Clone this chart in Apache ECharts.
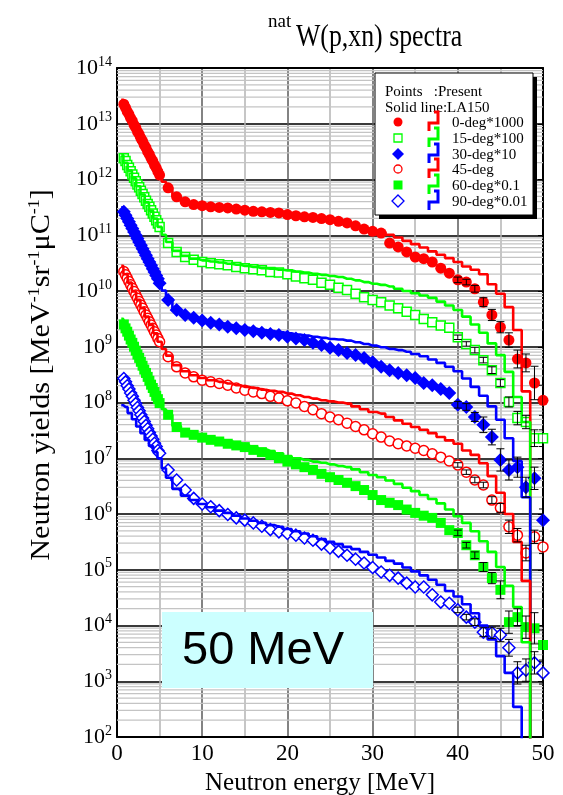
<!DOCTYPE html>
<html><head><meta charset="utf-8">
<script src="https://cdn.jsdelivr.net/npm/echarts@6/dist/echarts.min.js"></script>
<style>html,body{margin:0;padding:0;background:#fff;}#c{width:563px;height:795px;}</style>
</head><body><div id="c"></div>
<script>
// Energies of measured points (MeV)
const E_pts = [0.8,1.0,1.2,1.4,1.6,1.8,2.0,2.2,2.4,2.6,2.8,3.0,3.2,3.4,3.6,3.8,4.0,4.2,4.4,4.6,4.8,
  5,6,7,8,9,10,11,12,13,14,15,16,17,18,19,20,21,22,23,24,25,26,27,28,29,30,
  31,32,33,34,35,36,37,38,39,40,41,42,43,44,45,46,47,48,49,50];
// Measured yields, stored as log10 of the plotted value (already scaled per legend)
const y0deg = [13.35,13.29,13.22,13.17,13.10,13.05,12.98,12.93,12.86,12.81,12.74,12.69,12.62,12.57,12.50,12.45,12.38,12.33,12.26,12.21,12.14,
  12.08,11.85,11.69,11.60,11.55,11.53,11.51,11.50,11.49,11.47,
  11.45,11.43,11.42,11.41,11.40,11.37,11.35,11.33,11.32,11.30,
  11.28,11.25,11.22,11.17,11.11,11.07,11.04,10.86,10.79,10.70,
  10.61,10.58,10.52,10.41,10.32,10.20,10.16,10.04,9.80,9.57,
  9.35,9.12,8.78,8.71,8.35,8.04];
const y15deg = [12.38,12.33,12.26,12.21,12.15,12.09,12.03,11.97,11.91,11.86,11.80,11.74,11.68,11.62,11.56,11.51,11.45,11.39,11.33,11.27,11.21,
  11.15,10.86,10.70,10.61,10.56,10.52,10.50,10.48,10.46,10.43,
  10.41,10.39,10.37,10.34,10.33,10.30,10.26,10.23,10.20,10.15,
  10.11,10.06,10.02,9.95,9.89,9.84,9.80,9.74,9.69,9.63,
  9.57,9.50,9.44,9.38,9.34,9.17,9.05,8.94,8.76,8.58,
  8.35,8.01,7.72,7.65,7.36,7.36];
const y30deg = [11.42,11.36,11.30,11.24,11.18,11.12,11.06,11.00,10.94,10.88,10.82,10.76,10.70,10.64,10.58,10.52,10.46,10.40,10.34,10.28,10.22,
  10.14,9.84,9.66,9.57,9.52,9.47,9.43,9.40,9.36,9.33,
  9.30,9.28,9.25,9.23,9.21,9.18,9.15,9.12,9.07,9.03,
  8.98,8.94,8.89,8.85,8.80,8.72,8.64,8.58,8.53,8.49,
  8.44,8.35,8.31,8.24,8.17,7.96,7.92,7.74,7.60,7.38,
  6.97,6.79,6.84,6.48,6.64,5.89];
const y45deg = [10.35,10.29,10.23,10.17,10.11,10.05,9.99,9.93,9.87,9.81,9.75,9.69,9.63,9.57,9.51,9.45,9.39,9.33,9.27,9.21,9.15,
  9.09,8.82,8.64,8.53,8.46,8.40,8.37,8.34,8.31,8.26,
  8.22,8.19,8.16,8.11,8.08,8.03,7.99,7.93,7.87,7.80,
  7.74,7.69,7.63,7.57,7.51,7.44,7.38,7.31,7.26,7.22,
  7.18,7.14,7.08,7.02,6.95,6.88,6.75,6.61,6.52,6.25,
  6.11,5.77,5.62,5.30,5.59,5.41];
const y60deg = [9.40,9.33,9.27,9.20,9.13,9.07,9.00,8.93,8.86,8.80,8.73,8.66,8.59,8.53,8.46,8.39,8.32,8.26,8.19,8.12,8.06,
  7.99,7.78,7.56,7.46,7.42,7.37,7.33,7.30,7.26,7.23,
  7.20,7.15,7.11,7.06,7.00,6.94,6.89,6.84,6.79,6.72,
  6.66,6.61,6.56,6.50,6.43,6.34,6.25,6.20,6.16,6.08,
  6.02,5.97,5.93,5.84,5.71,5.66,5.44,5.26,5.05,4.85,
  4.64,4.06,4.15,3.97,3.95,3.65];
const y90deg = [8.43,8.37,8.30,8.24,8.17,8.11,8.04,7.98,7.91,7.85,7.78,7.72,7.66,7.59,7.53,7.46,7.40,7.34,7.27,7.21,7.14,
  7.09,6.79,6.61,6.43,6.28,6.18,6.13,6.06,5.99,5.93,
  5.89,5.84,5.78,5.72,5.68,5.65,5.62,5.57,5.53,5.46,
  5.39,5.33,5.26,5.19,5.12,5.04,4.96,4.90,4.85,4.76,
  4.69,4.69,4.55,4.42,4.40,4.28,4.15,4.06,3.88,3.87,
  3.83,3.60,3.15,3.20,3.33,3.15];

// Error bars (half-width in decades) for points at these energies
const errE = [40,41,42,43,44,45,46,47,48,49,50];
const err0deg  = [0.05,0.05,0.06,0.08,0.10,0.10,0.13,0.16,0.16,0.30,0.27];
const err15deg = [0.04,0.04,0.05,0.05,0.06,0.06,0.09,0.12,0.12,0.15,0.15];
const err30deg = [0.06,0.06,0.08,0.14,0.14,0.20,0.18,0.18,0.18,0.20,0.20];
const err45deg = [0.04,0.04,0.05,0.05,0.06,0.08,0.12,0.12,0.14,0.12,0.12];
const err60deg = [0.05,0.05,0.06,0.08,0.10,0.16,0.20,0.15,0.20,0.28,0.27];
const err90deg = [0.05,0.05,0.06,0.08,0.10,0.12,0.15,0.20,0.20,0.20,0.20];

// LA150 calculation, bin centres (MeV), log10 values; 0 => empty bin
const E_calc = [0.5,1.0,1.5,2.0,2.5,3.0,3.5,4.0,4.5,5.0,5.5,
  6,7,8,9,10,11,12,13,14,15,16,17,18,19,20,
  21,22,23,24,25,26,27,28,29,30,31,32,33,34,35,36,37,38,39,40,41,42,43,44,45,46,47,48,49];
const c0deg = [13.43,13.28,13.13,12.98,12.83,12.68,12.53,12.38,12.23,12.08,11.96,
  11.85,11.69,11.60,11.55,11.53,
  11.51,11.50,11.49,11.47,11.46,11.45,11.44,11.43,11.42,11.40,
  11.38,11.36,11.34,11.31,11.28,11.24,11.20,11.16,11.12,11.08,
  11.06,11.01,10.96,10.90,10.84,10.78,10.71,10.65,10.59,10.52,
  10.44,10.38,10.30,10.12,9.95,9.71,9.30,8.20,0];
const c15deg = [12.44,12.30,12.16,12.02,11.88,11.73,11.59,11.44,11.30,11.15,11.01,
  10.88,10.72,10.63,10.58,10.55,
  10.53,10.51,10.49,10.47,10.45,10.43,10.41,10.40,10.38,10.37,
  10.35,10.33,10.31,10.29,10.27,10.25,10.22,10.19,10.16,10.13,
  10.11,10.08,10.04,10.00,9.96,9.92,9.88,9.81,9.74,9.66,
  9.54,9.40,9.25,9.06,8.85,8.55,8.10,7.65,0];
const c30deg = [11.50,11.35,11.21,11.06,10.91,10.76,10.61,10.46,10.31,10.16,10.01,
  9.86,9.68,9.58,9.53,9.48,
  9.45,9.42,9.39,9.36,9.34,9.32,9.30,9.28,9.26,9.24,
  9.22,9.20,9.18,9.16,9.14,9.13,9.11,9.08,9.05,9.02,
  8.99,8.96,8.94,8.91,8.87,8.83,8.77,8.71,8.64,8.56,
  8.43,8.28,8.12,7.93,7.69,7.36,6.95,6.30,0];
const c45deg = [10.45,10.30,10.15,9.99,9.84,9.69,9.54,9.39,9.24,9.09,8.96,
  8.84,8.67,8.56,8.49,8.44,
  8.40,8.37,8.34,8.31,8.28,8.26,8.23,8.21,8.19,8.16,
  8.13,8.10,8.07,8.04,8.02,8.00,7.98,7.93,7.88,7.83,
  7.80,7.74,7.68,7.62,7.56,7.51,7.45,7.38,7.32,7.26,
  7.14,7.06,6.91,6.68,6.38,6.00,5.50,4.80,0];
const c60deg = [9.50,9.33,9.17,9.00,8.83,8.66,8.49,8.32,8.16,7.99,7.88,
  7.78,7.58,7.48,7.43,7.39,
  7.36,7.33,7.30,7.27,7.24,7.20,7.16,7.13,7.09,7.04,
  7.00,6.97,6.94,6.92,6.89,6.86,6.84,6.80,6.75,6.70,
  6.66,6.60,6.54,6.47,6.41,6.34,6.27,6.19,6.08,5.96,
  5.84,5.69,5.51,5.32,5.05,4.71,4.33,3.70,0];
const c90deg = [7.95,7.92,7.81,7.70,7.57,7.45,7.33,7.22,7.11,7.00,6.82,
  6.65,6.45,6.33,6.25,6.18,
  6.12,6.06,6.02,5.97,5.92,5.88,5.84,5.80,5.77,5.73,
  5.69,5.65,5.60,5.55,5.50,5.46,5.41,5.37,5.32,5.27,
  5.22,5.16,5.11,5.04,4.97,4.90,4.82,4.73,4.62,4.52,
  4.38,4.22,4.00,3.75,3.45,3.15,2.54,0,0];

const legendNames = ['0-deg*1000','15-deg*100','30-deg*10','45-deg','60-deg*0.1','90-deg*0.01'];

const SERIF = '"Liberation Serif","Times New Roman",Times,serif';
const SANS = '"Liberation Sans",Arial,Helvetica,sans-serif';
const RED = '#ff0000', GREEN = '#00ff00', BLUE = '#0000ff';

const p10 = v => Math.pow(10, v);
const pts = a => E_pts.map((e, i) => [e, p10(a[i])]);
const calc = a => E_calc.map((e, i) => [e, p10(a[i])]);
const errs = (a, er) => errE.map((e, i) => {
  const v = a[E_pts.indexOf(e)];
  return [e, p10(v - er[i]), p10(v + er[i])];
});

// minor log grid values 2..9 x 10^n
const minorVals = [];
for (let n = 2; n < 14; n++) for (let k = 2; k < 10; k++) minorVals.push([0, k * p10(n)]);

const chart = echarts.init(document.getElementById('c'), null, {renderer: 'canvas', width: 563, height: 795});

function scat(name, data, symbol, size, fill, stroke) {
  return {type: 'scatter', name, data, symbol, symbolSize: size, z: 3, silent: true,
    itemStyle: {color: fill, borderColor: stroke, borderWidth: fill === '#fff' ? 1.5 : 0, opacity: 1}};
}
function stepLine(name, data, color) {
  return {type: 'line', name, data, step: 'middle', showSymbol: false, symbol: 'none', z: 4, silent: true,
    clip: true, lineStyle: {color, width: 2.6}};
}
function errSeries(data) {
  return {type: 'custom', data, z: 5, silent: true, clip: true,
    renderItem: (params, api) => {
      const a = api.coord([api.value(0), api.value(1)]);
      const b = api.coord([api.value(0), api.value(2)]);
      const st = {stroke: '#000', lineWidth: 1};
      return {type: 'group', children: [
        {type: 'line', shape: {x1: a[0], y1: a[1], x2: b[0], y2: b[1]}, style: st},
        {type: 'line', shape: {x1: a[0] - 4, y1: a[1], x2: a[0] + 4, y2: a[1]}, style: st},
        {type: 'line', shape: {x1: b[0] - 4, y1: b[1], x2: b[0] + 4, y2: b[1]}, style: st}
      ]};
    }};
}

const series = [
  {type: 'custom', data: minorVals, z: 1, silent: true,
    renderItem: (params, api) => {
      const y = api.coord([0, api.value(1)])[1];
      const cs = params.coordSys;
      return {type: 'line', shape: {x1: cs.x, y1: y, x2: cs.x + cs.width, y2: y},
        style: {stroke: '#c4c4c4', lineWidth: 1.3}};
    }},
  scat(legendNames[0], pts(y0deg), 'circle', 11, RED, RED),
  scat(legendNames[1], pts(y15deg), 'rect', 9, '#fff', GREEN),
  scat(legendNames[2], pts(y30deg), 'diamond', 14, BLUE, BLUE),
  scat(legendNames[3], pts(y45deg), 'circle', 10, '#fff', RED),
  scat(legendNames[4], pts(y60deg), 'rect', 10, GREEN, GREEN),
  scat(legendNames[5], pts(y90deg), 'diamond', 12, '#fff', BLUE),
  stepLine('LA150 0', calc(c0deg), RED),
  stepLine('LA150 15', calc(c15deg), GREEN),
  stepLine('LA150 30', calc(c30deg), BLUE),
  stepLine('LA150 45', calc(c45deg), RED),
  stepLine('LA150 60', calc(c60deg), GREEN),
  stepLine('LA150 90', calc(c90deg), BLUE),
  errSeries(errs(y0deg, err0deg)),
  errSeries(errs(y15deg, err15deg)),
  errSeries(errs(y30deg, err30deg)),
  errSeries(errs(y45deg, err45deg)),
  errSeries(errs(y60deg, err60deg)),
  errSeries(errs(y90deg, err90deg))
];

// Legend graphics
const legY = [122, 138, 154, 169, 185, 201];
const legColors = [RED, GREEN, BLUE, RED, GREEN, BLUE];
const legend = [
  {type: 'rect', shape: {x: 379, y: 77, width: 158, height: 142}, style: {fill: '#000'}, z: 100},
  {type: 'rect', shape: {x: 375, y: 73, width: 158, height: 142}, style: {fill: '#fff', stroke: '#000', lineWidth: 1}, z: 101},
  {type: 'text', x: 385, y: 92, z: 102, style: {text: 'Points   :Present', font: '15px ' + SERIF, fill: '#000', verticalAlign: 'middle'}},
  {type: 'text', x: 385, y: 108, z: 102, style: {text: 'Solid line:LA150', font: '15px ' + SERIF, fill: '#000', verticalAlign: 'middle'}}
];
legY.forEach((cy, i) => {
  const col = legColors[i];
  const mx = 398;
  let m;
  if (i === 0) m = {type: 'circle', shape: {cx: mx, cy, r: 4.5}, style: {fill: col}};
  else if (i === 3) m = {type: 'circle', shape: {cx: mx, cy, r: 4}, style: {fill: '#fff', stroke: col, lineWidth: 1.3}};
  else if (i === 1) m = {type: 'rect', shape: {x: mx - 4, y: cy - 4, width: 8, height: 8}, style: {fill: '#fff', stroke: col, lineWidth: 1.3}};
  else if (i === 4) m = {type: 'rect', shape: {x: mx - 4.5, y: cy - 4.5, width: 9, height: 9}, style: {fill: col}};
  else if (i === 2) m = {type: 'polygon', shape: {points: [[mx, cy - 6], [mx + 6, cy], [mx, cy + 6], [mx - 6, cy]]}, style: {fill: col}};
  else m = {type: 'polygon', shape: {points: [[mx, cy - 6], [mx + 6, cy], [mx, cy + 6], [mx - 6, cy]]}, style: {fill: '#fff', stroke: col, lineWidth: 1.3}};
  m.z = 102;
  legend.push(m);
  const ix = 433;
  legend.push({type: 'polyline', z: 102, shape: {points: [[ix + 1, cy - 10], [ix + 5, cy - 10], [ix + 5, cy + 1], [ix - 4, cy + 1], [ix - 4, cy + 9]]},
    style: {stroke: col, lineWidth: 3, fill: null}});
  legend.push({type: 'text', x: 452, y: cy + 1, z: 102, style: {text: legendNames[i], font: '15px ' + SERIF, fill: '#000', verticalAlign: 'middle'}});
});

const graphics = legend.concat([
  // title
  {type: 'text', x: 268, y: 22, z: 50, style: {text: 'nat', font: '19px ' + SERIF, fill: '#000', verticalAlign: 'middle'}},
  {type: 'text', x: 296, y: 38, z: 50, scaleX: 0.86, scaleY: 1.05, style: {text: 'W(p,xn) spectra', font: '30px ' + SERIF, fill: '#000', verticalAlign: 'middle'}},
  // y axis name
  {type: 'text', x: 42, y: 375, rotation: Math.PI / 2, scaleX: 1.12, z: 50,
    style: {text: '{n|Neutron yields [MeV}{s|-1}{n|sr}{s|-1}{n|\u03bcC}{s|-1}{n|]}', align: 'center', verticalAlign: 'middle',
      rich: {n: {fontSize: 27, fontFamily: SERIF, fill: '#000', lineHeight: 30},
             s: {fontSize: 16, fontFamily: SERIF, fill: '#000', lineHeight: 12, verticalAlign: 'top'}}}},
  // x axis name
  {type: 'text', x: 320, y: 783, z: 50, style: {text: 'Neutron energy [MeV]', font: '25px ' + SERIF, fill: '#000', align: 'center', verticalAlign: 'middle'}},
  // 50 MeV box
  {type: 'rect', shape: {x: 162, y: 612, width: 211, height: 76}, style: {fill: '#ccffff'}, z: 60},
  {type: 'text', x: 182, y: 651, z: 61, style: {text: '50 MeV', font: '47px ' + SANS, fill: '#000', verticalAlign: 'middle'}}
]);

chart.setOption({
  animation: false,
  backgroundColor: '#fff',
  grid: {left: 117, right: 20, top: 68, bottom: 58, containLabel: false},
  xAxis: [
    {type: 'value', min: 0, max: 50, interval: 10, position: 'bottom',
      axisLine: {show: true, onZero: false, lineStyle: {color: '#000', width: 2}},
      axisTick: {show: false},
      axisLabel: {fontSize: 23, fontFamily: SERIF, color: '#000', margin: 5},
      splitLine: {show: true, lineStyle: {color: '#5a5a5a', width: 1.5}},
      minorTick: {show: false, splitNumber: 2},
      minorSplitLine: {show: true, lineStyle: {color: '#b4b4b4', width: 1.5}}},
    {type: 'value', min: 0, max: 50, interval: 10, position: 'top',
      axisLine: {show: true, onZero: false, lineStyle: {color: '#000', width: 2}},
      axisTick: {show: false}, axisLabel: {show: false}, splitLine: {show: false}}
  ],
  yAxis: [
    {type: 'log', logBase: 10, min: 100, max: 1e14, interval: 1, splitNumber: 12, position: 'left',
      axisLine: {show: true, onZero: false, lineStyle: {color: '#000', width: 2}},
      axisTick: {show: false},
      axisLabel: {margin: 5, formatter: v => '{b|10}{s|' + Math.round(Math.log10(v)) + '}',
        rich: {b: {fontSize: 22, fontFamily: SERIF, color: '#000', lineHeight: 26},
               s: {fontSize: 14, fontFamily: SERIF, color: '#000', lineHeight: 10, verticalAlign: 'top'}}},
      splitLine: {show: true, lineStyle: {color: '#3a3a3a', width: 2}}},
    {type: 'log', logBase: 10, min: 100, max: 1e14, interval: 1, splitNumber: 12, position: 'right',
      axisLine: {show: true, onZero: false, lineStyle: {color: '#000', width: 2}},
      axisTick: {show: true, inside: true, length: 5, lineStyle: {color: '#000', width: 1}},
      axisLabel: {show: false}, splitLine: {show: false}}
  ],
  series,
  graphic: graphics
});
</script>
</body></html>
